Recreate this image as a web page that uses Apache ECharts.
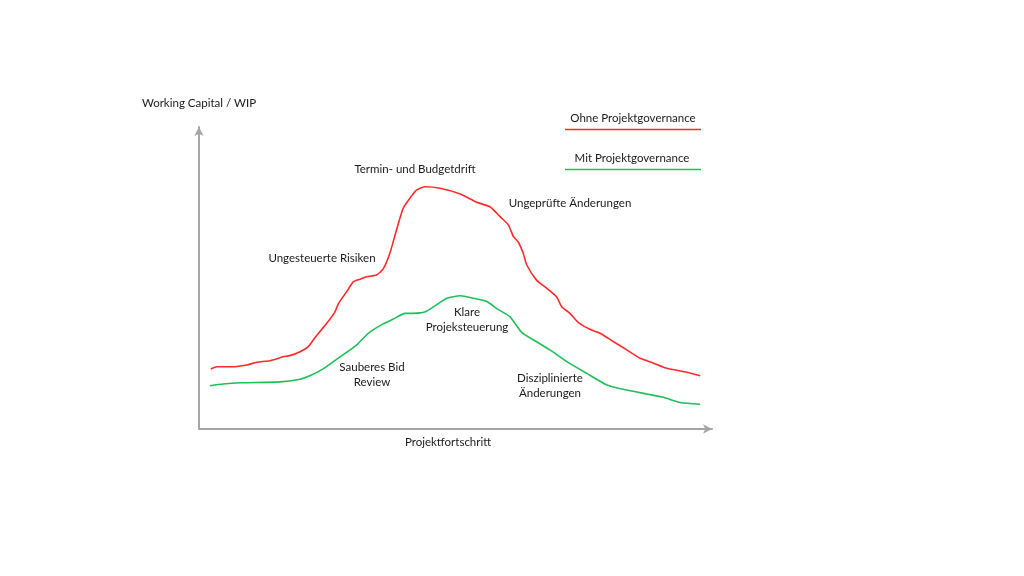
<!DOCTYPE html>
<html>
<head>
<meta charset="utf-8">
<script src="https://cdn.jsdelivr.net/npm/echarts@6/dist/echarts.min.js"></script>
<style>
  html, body { margin: 0; padding: 0; background: #fff; }
  #chart { width: 1024px; height: 576px; }
</style>
</head>
<body>
<div id="chart"></div>
<script>
// Verlauf ohne Projektgovernance (x = Projektfortschritt, y = Working Capital)
var ohneX = [2.3, 3.5, 6.6, 9.3, 11.3, 13.8, 16.4, 17.7, 19.7, 21.3, 22.9, 24.9, 26.5, 27.2, 28.8, 30.1, 31.4, 32.7, 34.6, 35.9, 37.2, 38.5, 39.8, 41.1, 42.4, 44.1, 47.0, 50.9, 54.1, 56.7, 58.7, 60.3, 61.3, 62.2, 63.2, 63.9, 65.8, 67.8, 69.7, 70.7, 72.3, 73.9, 76.2, 78.2, 80.8, 83.4, 86.0, 88.6, 91.2, 95.1, 97.7];
var ohneY = [19.9, 20.6, 20.6, 21.2, 22.1, 22.6, 23.9, 24.3, 25.6, 27.3, 30.9, 35.0, 38.8, 41.6, 45.5, 48.8, 49.6, 50.4, 51.0, 53.0, 58.2, 65.9, 73.1, 76.4, 79.1, 80.2, 79.7, 77.8, 75.1, 73.6, 70.3, 67.6, 63.7, 62.0, 58.2, 54.3, 49.3, 46.6, 43.8, 40.5, 38.3, 35.3, 33.0, 31.7, 28.9, 26.2, 23.4, 21.8, 20.1, 18.8, 17.6];

// Verlauf mit Projektgovernance
var mitX = [2.1, 4.7, 8.0, 15.8, 19.7, 21.6, 24.2, 27.5, 30.7, 33.0, 35.9, 37.9, 40.2, 41.8, 44.1, 46.3, 48.3, 50.9, 53.5, 56.1, 58.3, 60.6, 62.9, 65.8, 68.4, 71.7, 75.6, 79.5, 83.4, 87.3, 90.5, 93.8, 97.7];
var mitY = [14.3, 14.9, 15.3, 15.6, 16.5, 17.6, 19.9, 23.9, 27.8, 31.7, 34.8, 36.4, 38.3, 38.3, 38.8, 41.1, 43.3, 44.1, 43.3, 42.2, 39.6, 37.2, 32.0, 28.9, 26.2, 22.3, 18.4, 14.6, 12.9, 11.6, 10.5, 8.8, 8.2];

var seriesNames = ['Ohne Projektgovernance', 'Mit Projektgovernance'];
var seriesColors = ['#ff2a2a', '#1fbf5a'];
var axisNames = ['Projektfortschritt', 'Working Capital / WIP'];

function pairs(xs, ys) {
    return xs.map(function (x, i) { return [x, ys[i]] })
}

var FONT = 'Lato';
var axisGray = '#a6a6a6';

// Text zentriert um (x, y)
function label(x, y, text) {
    return {
        type: 'text', x: x, y: y,
        style: { text: text, fill: '#1a1a1a', font: '11.5px ' + FONT, align: 'center', verticalAlign: 'middle' }
    }
}

var chart = echarts.init(document.getElementById('chart'));

var option = {
    backgroundColor: '#fff',
    animation: false,
    grid: { left: 199, top: 127, right: 312, bottom: 147 },
    xAxis: {
        type: 'value', min: 0, max: 100,
        axisLine: { show: true, symbol: ['none', 'arrow'], symbolSize: [7, 9], lineStyle: { color: axisGray, width: 2 } },
        axisTick: { show: false }, axisLabel: { show: false }, splitLine: { show: false }
    },
    yAxis: {
        type: 'value', min: 0, max: 100,
        axisLine: { show: true, symbol: ['none', 'arrow'], symbolSize: [7, 9], lineStyle: { color: axisGray, width: 2 } },
        axisTick: { show: false }, axisLabel: { show: false }, splitLine: { show: false }
    },
    series: [
        {
            name: seriesNames[0], type: 'line', data: pairs(ohneX, ohneY),
            showSymbol: false, smooth: 0.2,
            lineStyle: { color: seriesColors[0], width: 1.6 }
        },
        {
            name: seriesNames[1], type: 'line', data: pairs(mitX, mitY),
            showSymbol: false, smooth: 0.2,
            lineStyle: { color: seriesColors[1], width: 1.6 }
        }
    ],
    graphic: [
        // Achsentitel
        label(199, 103, axisNames[1]),
        label(448, 442, axisNames[0]),
        // Legende
        label(633, 118, seriesNames[0]),
        { type: 'line', shape: { x1: 565, y1: 129.5, x2: 701, y2: 129.5 }, style: { stroke: seriesColors[0], lineWidth: 1.6 } },
        label(632, 158, seriesNames[1]),
        { type: 'line', shape: { x1: 565, y1: 169.5, x2: 701, y2: 169.5 }, style: { stroke: seriesColors[1], lineWidth: 1.6 } },
        // Anmerkungen
        label(415, 169, 'Termin- und Budgetdrift'),
        label(570, 203, 'Ungeprüfte Änderungen'),
        label(322, 258, 'Ungesteuerte Risiken'),
        label(372, 367, 'Sauberes Bid'),
        label(372, 382, 'Review'),
        label(467, 312, 'Klare'),
        label(467, 327, 'Projeksteuerung'),
        label(550, 378, 'Disziplinierte'),
        label(550, 393, 'Änderungen')
    ]
};

chart.setOption(option);
</script>
</body>
</html>
